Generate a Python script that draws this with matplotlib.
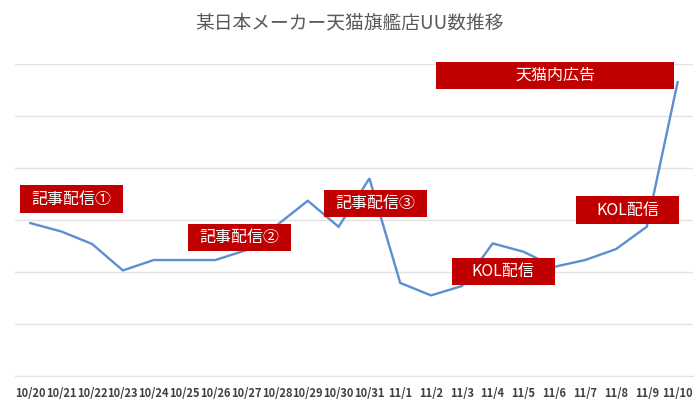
import matplotlib
matplotlib.use("Agg")
import matplotlib.pyplot as plt
from matplotlib.patches import Rectangle

plt.rcParams['font.family'] = ['Noto Sans CJK JP', 'DejaVu Sans']

dates = ["10/20", "10/21", "10/22", "10/23", "10/24", "10/25", "10/26", "10/27",
         "10/28", "10/29", "10/30", "10/31", "11/1", "11/2", "11/3", "11/4",
         "11/5", "11/6", "11/7", "11/8", "11/9", "11/10"]
uu = [2940, 2780, 2540, 2030, 2230, 2230, 2230, 2420,
      2900, 3370, 2870, 3800, 1790, 1550, 1730, 2550,
      2390, 2100, 2230, 2440, 2870, 5650]

notes = ["記事配信①", "記事配信②", "記事配信③", "KOL配信", "KOL配信", "天猫内広告"]
note_x = [1.33, 6.79, 11.2, 15.34, 19.37, 17.03]
note_y = [3404, 2663, 3317, 2010, 3192, 5788]
note_w = [3.34, 3.34, 3.34, 3.34, 3.34, 7.73]

fig = plt.figure(figsize=(7.0, 3.99), dpi=100)
ax = fig.add_axes([15/700, 23/399, (693-15)/700, (376-64)/399])

x = list(range(len(dates)))
ax.plot(x, uu, color="#5b8fd0", linewidth=1.7, zorder=3, solid_joinstyle="miter")

ax.set_xlim(-0.5, len(dates) - 0.5)
ax.set_ylim(0, 6000)
ax.set_yticks(range(0, 6001, 1000))
ax.yaxis.grid(True, color="#e3e3e3", linewidth=1.0)
ax.set_axisbelow(True)
ax.tick_params(axis="y", left=False, labelleft=False)
ax.set_xticks(x)
ax.set_xticklabels(dates, fontsize=8, color="#404040", fontweight="bold")
ax.tick_params(axis="x", length=0, pad=8)
for s in ["top", "left", "right"]:
    ax.spines[s].set_visible(False)
ax.spines["bottom"].set_color("#e3e3e3")

h = 520
for t, cx, cy, w in zip(notes, note_x, note_y, note_w):
    ax.add_patch(Rectangle((cx - w/2, cy - h/2), w, h, facecolor="#c00000",
                           edgecolor="none", zorder=5, clip_on=False))
    ax.text(cx, cy, t, color="white", fontsize=11.5, ha="center", va="center",
            zorder=6)

fig.text(0.5, 1 - 23/399, "某日本メーカー天猫旗艦店UU数推移", ha="center", va="center",
         fontsize=13.5, color="#595959")

fig.savefig("out.png", dpi=100)
